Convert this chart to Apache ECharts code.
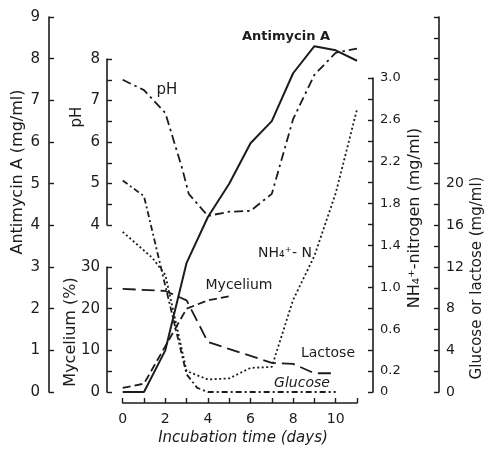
<!DOCTYPE html>
<html>
<head>
<meta charset="utf-8">
<script src="https://cdn.jsdelivr.net/npm/echarts@6/dist/echarts.min.js"></script>
<style>
  html, body { margin: 0; padding: 0; background: #fff; }
  #chart { width: 485px; height: 449px; }
</style>
</head>
<body>
<div id="chart"></div>
<script>
// values
const antimycinDays = [0, 1, 2, 3, 4, 5, 6, 7, 8, 9, 10, 11];
const antimycin = [0, 0, 1.0, 3.1, 4.2, 5.0, 5.97, 6.5, 7.65, 8.3, 8.2, 7.95];

const phDays = [0, 1, 2, 2.8, 3.1, 4, 5, 6, 7, 8, 9, 10, 11];
const ph = [7.5, 7.25, 6.7, 5.35, 4.75, 4.22, 4.32, 4.34, 4.75, 6.55, 7.62, 8.15, 8.25];

const myceliumDays = [0, 1, 2, 3, 4, 5];
const mycelium = [1, 2, 11, 20, 22, 23];

const nh4Days = [0, 1.4, 2, 3, 4, 5, 6, 7, 8, 9, 10, 11];
const nh4 = [1.53, 1.28, 1.12, 0.2, 0.12, 0.13, 0.23, 0.24, 0.88, 1.3, 1.9, 2.7];

const glucoseDays = [0, 1, 2, 3, 3.5, 4, 5, 6, 7, 8, 9, 10];
const glucose = [20.3, 18.8, 10.2, 1.7, 0.4, 0, 0, 0, 0, 0, 0, 0];

const lactoseDays = [0, 2, 3, 4, 7, 8, 9, 10];
const lactose = [9.9, 9.7, 8.8, 4.8, 2.8, 2.7, 1.8, 1.8];

const pairs = (xs, ys) => xs.map((x, i) => [x, ys[i]]);

const ink = '#1c1c1c';
const font = 'DejaVu Sans';

const chart = echarts.init(document.getElementById('chart'), null, { renderer: 'canvas' });

const hiddenX = (gi) => ({
  type: 'value', gridIndex: gi, min: 0, max: 11, show: false
});

const baseY = {
  type: 'value',
  splitLine: { show: false },
  axisLine: { show: true, onZero: false, lineStyle: { color: ink, width: 1.6 } },
  axisTick: { show: true, inside: true, length: 5, lineStyle: { color: ink, width: 1.4 } },
  axisLabel: { color: ink, fontFamily: font, fontSize: 14 }
};

const line = (name, xi, yi, data, dash, width) => ({
  name, type: 'line', xAxisIndex: xi, yAxisIndex: yi,
  data, symbol: 'none', clip: false, animation: false,
  lineStyle: { color: ink, width: width || 1.8, type: dash }
});

const option = {
  animation: false,
  grid: [
    { left: 122.7, right: 128, top: 17, bottom: 57 },   // antimycin + glucose/lactose
    { left: 122.7, right: 128, top: 59, bottom: 224 },  // pH
    { left: 122.7, right: 128, top: 267, bottom: 57 },  // mycelium
    { left: 122.7, right: 128, top: 78, bottom: 57 }    // NH4+-N
  ],
  xAxis: [
    {
      type: 'value', gridIndex: 0, min: 0, max: 11, interval: 1,
      offset: 11,
      splitLine: { show: false },
      axisLine: { onZero: false, lineStyle: { color: ink, width: 1.6 } },
      axisTick: { inside: true, length: 5, lineStyle: { color: ink, width: 1.4 } },
      axisLabel: {
        color: ink, fontFamily: font, fontSize: 14, margin: 9,
        formatter: v => (v % 2 === 0 && v <= 10 ? String(v) : '')
      }
    },
    hiddenX(1), hiddenX(2), hiddenX(3)
  ],
  yAxis: [
    Object.assign({}, baseY, {
      gridIndex: 0, position: 'left', offset: 73.7, min: 0, max: 9, interval: 1,
      axisLabel: Object.assign({}, baseY.axisLabel, { margin: 9, fontSize: 15 })
    }),
    Object.assign({}, baseY, {
      gridIndex: 0, position: 'right', offset: 82, min: 0, max: 36, interval: 2,
      axisLabel: Object.assign({}, baseY.axisLabel, {
        margin: 7,
        formatter: v => (v % 4 === 0 && v <= 20 ? String(v) : '')
      })
    }),
    Object.assign({}, baseY, {
      gridIndex: 1, position: 'left', offset: 15.7, min: 4, max: 8, interval: 0.5,
      axisLabel: Object.assign({}, baseY.axisLabel, {
        margin: 7, fontSize: 15,
        formatter: v => (Number.isInteger(v) ? String(v) : '')
      })
    }),
    Object.assign({}, baseY, {
      gridIndex: 2, position: 'left', offset: 15.7, min: 0, max: 30, interval: 5,
      axisLabel: Object.assign({}, baseY.axisLabel, {
        margin: 7, fontSize: 15,
        formatter: v => (v % 10 === 0 ? String(v) : '')
      })
    }),
    Object.assign({}, baseY, {
      gridIndex: 3, position: 'right', offset: 16, min: 0, max: 3, interval: 0.2,
      axisLabel: Object.assign({}, baseY.axisLabel, {
        margin: 7, fontSize: 13,
        formatter: v => {
          const r = Math.round(v * 10) / 10;
          if (r === 0) return '0';
          const k = Math.round((r - 0.2) * 10);
          return k % 4 === 0 ? r.toFixed(1) : '';
        }
      })
    })
  ],
  series: [
    line('Antimycin A', 0, 0, pairs(antimycinDays, antimycin), 'solid', 2),
    line('Lactose', 0, 1, pairs(lactoseDays, lactose), [13, 6]),
    line('Glucose', 0, 1, pairs(glucoseDays, glucose), [6, 3, 2, 3]),
    line('pH', 1, 2, pairs(phDays, ph), [9, 4, 2.5, 4]),
    line('Mycelium', 2, 3, pairs(myceliumDays, mycelium), [8, 4]),
    line('NH4+-N', 3, 4, pairs(nh4Days, nh4), [2, 2.5])
  ],
  graphic: [
    // axis titles
    { type: 'text', x: 18, y: 172, rotation: Math.PI / 2,
      style: { text: 'Antimycin A (mg/ml)', font: '16px "DejaVu Sans"', fill: ink, align: 'center', verticalAlign: 'middle' } },
    { type: 'text', x: 77, y: 117, rotation: Math.PI / 2,
      style: { text: 'pH', font: '15px "DejaVu Sans"', fill: ink, align: 'center', verticalAlign: 'middle' } },
    { type: 'text', x: 71, y: 332, rotation: Math.PI / 2,
      style: { text: 'Mycelium (%)', font: '16px "DejaVu Sans"', fill: ink, align: 'center', verticalAlign: 'middle' } },
    { type: 'text', x: 415, y: 218, rotation: Math.PI / 2,
      style: { text: 'NH₄⁺-nitrogen (mg/ml)', font: '16px "DejaVu Sans"', fill: ink, align: 'center', verticalAlign: 'middle' } },
    { type: 'text', x: 477, y: 278, rotation: Math.PI / 2,
      style: { text: 'Glucose or lactose (mg/ml)', font: '15px "DejaVu Sans"', fill: ink, align: 'center', verticalAlign: 'middle' } },
    { type: 'text', x: 243, y: 438,
      style: { text: 'Incubation time (days)', font: 'italic 15px "DejaVu Sans"', fill: ink, align: 'center', verticalAlign: 'middle' } },
    // curve labels
    { type: 'text', x: 286, y: 37,
      style: { text: 'Antimycin A', font: 'bold 13px "DejaVu Sans"', fill: ink, align: 'center', verticalAlign: 'middle' } },
    { type: 'text', x: 167, y: 90,
      style: { text: 'pH', font: '15px "DejaVu Sans"', fill: ink, align: 'center', verticalAlign: 'middle' } },
    { type: 'text', x: 239, y: 285,
      style: { text: 'Mycelium', font: '14px "DejaVu Sans"', fill: ink, align: 'center', verticalAlign: 'middle' } },
    { type: 'text', x: 285, y: 253,
      style: { text: 'NH₄⁺- N', font: '14px "DejaVu Sans"', fill: ink, align: 'center', verticalAlign: 'middle' } },
    { type: 'text', x: 328, y: 353,
      style: { text: 'Lactose', font: '14px "DejaVu Sans"', fill: ink, align: 'center', verticalAlign: 'middle' } },
    { type: 'text', x: 302, y: 383,
      style: { text: 'Glucose', font: 'italic 14px "DejaVu Sans"', fill: ink, align: 'center', verticalAlign: 'middle' } }
  ]
};

chart.setOption(option);
</script>
</body>
</html>
